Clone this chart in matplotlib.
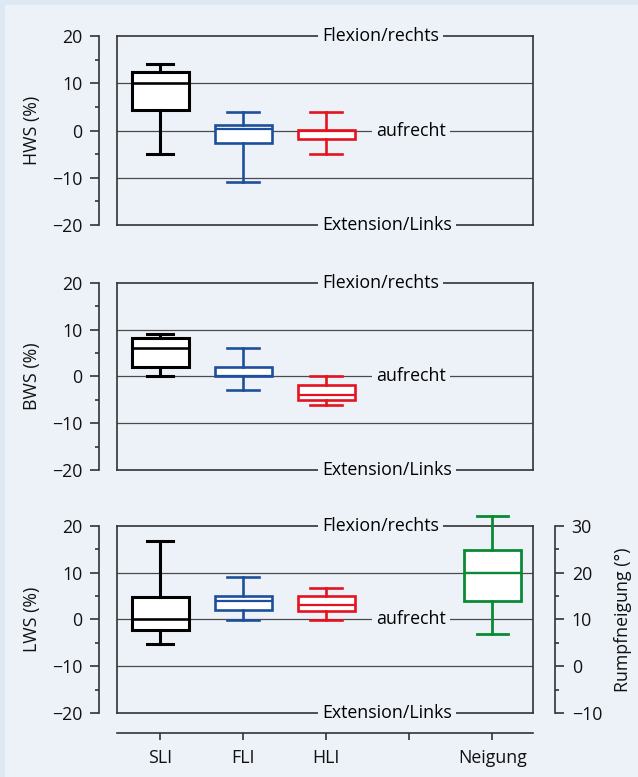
import matplotlib
matplotlib.use('Agg')
import matplotlib.pyplot as plt
from matplotlib.ticker import FixedLocator
import matplotlib.patches as mpatches

plt.rcParams['font.family'] = ['Open Sans', 'DejaVu Sans']
FS = 12.8
plt.rcParams['font.size'] = FS

# ---------------- data ----------------
groups = ['SLI', 'FLI', 'HLI']
xtick_labels = ['SLI', 'FLI', 'HLI', '', 'Neigung']
panel_labels = ['HWS (%)', 'BWS (%)', 'LWS (%)']
right_label = 'Rumpfneigung (°)'
top_text = 'Flexion/rechts'
mid_text = 'aufrecht'
bottom_text = 'Extension/Links'

# five-number summaries: low whisker, Q1, median, Q3, high whisker (SLI, FLI, HLI)
HWS_LOW = [-5, -11, -5]
HWS_Q1 = [4.3, -2.7, -1.8]
HWS_MED = [10, 0.3, 0.0]
HWS_Q3 = [12.3, 1.2, 0.2]
HWS_HIGH = [14, 4, 4]

BWS_LOW = [0, -3, -6.1]
BWS_Q1 = [1.9, 0, -5.0]
BWS_MED = [6, 0, -3.9]
BWS_Q3 = [8.2, 2.0, -1.8]
BWS_HIGH = [9, 6.1, 0]

LWS_LOW = [-5.2, -0.2, -0.2]
LWS_Q1 = [-2.2, 1.9, 1.8]
LWS_MED = [0, 4.0, 3.0]
LWS_Q3 = [4.8, 5.0, 4.9]
LWS_HIGH = [16.7, 9.0, 6.8]

# trunk inclination (°), right axis
NEIG_LOW = 6.8
NEIG_Q1 = 13.9
NEIG_MED = 20
NEIG_Q3 = 24.8
NEIG_HIGH = 32

panels = [
    (HWS_LOW, HWS_Q1, HWS_MED, HWS_Q3, HWS_HIGH),
    (BWS_LOW, BWS_Q1, BWS_MED, BWS_Q3, BWS_HIGH),
    (LWS_LOW, LWS_Q1, LWS_MED, LWS_Q3, LWS_HIGH),
]

colors = ['#000000', '#1d4f9c', '#e3141f']
green = '#0a8a34'
group_lw = [2.2, 1.9, 1.9]
cap_w = [0.32, 0.38, 0.38]

BG = '#edf2f9'
FRAME = '#333333'
GRID = '#4a4a4a'
DPI = 100
px = 72.0 / DPI  # points per pixel

fig = plt.figure(figsize=(6.38, 7.77), dpi=DPI)
fig.patch.set_facecolor('#dde8f2')
fig.add_artist(mpatches.Rectangle((5 / 638, 0), 1, 1 - 5 / 777,
                                  transform=fig.transFigure, facecolor=BG,
                                  edgecolor='none', zorder=-10))

W, H = 638.0, 777.0
left_px, right_px = 117, 533
panel_px = [(36, 225), (282.7, 470), (525.7, 713)]


def int_fmt(v, p):
    return f"{int(round(v))}".replace('-', '\u2212')


def draw_box(ax, pos, low, q1, med, q3, high, color, lw, capw):
    stats = [dict(whislo=low, q1=q1, med=med, q3=q3, whishi=high, fliers=[])]
    art = ax.bxp(stats, positions=[pos], widths=0.69, capwidths=[capw],
                 patch_artist=True, showfliers=False, manage_ticks=False,
                 boxprops=dict(facecolor='white', edgecolor=color, linewidth=lw),
                 medianprops=dict(color=color, linewidth=lw * 0.85),
                 whiskerprops=dict(color=color, linewidth=lw),
                 capprops=dict(color=color, linewidth=lw))
    for k, lst in art.items():
        for a in lst:
            a.set_clip_on(False)
            a.set_zorder(4)


for i, (data, (ytop, ybot)) in enumerate(zip(panels, panel_px)):
    ax = fig.add_axes([left_px / W, 1 - ybot / H, (right_px - left_px) / W, (ybot - ytop) / H])
    ax.set_facecolor('none')
    ax.set_xlim(0.48, 5.49)
    ax.set_ylim(-20, 20)

    # grid lines
    for yv in (10, -10, 0):
        ax.axhline(yv, color=GRID, lw=0.9, zorder=1)

    # frame drawn manually
    for xs, ys in (([0, 1], [1, 1]), ([0, 1], [0, 0]), ([0, 0], [0, 1]), ([1, 1], [0, 1])):
        ax.plot(xs, ys, transform=ax.transAxes, color=FRAME, lw=1.2, zorder=3,
                clip_on=False, solid_capstyle='projecting')

    tb = dict(facecolor=BG, edgecolor='none', pad=3.0)
    ax.text(3.65, 20, top_text, ha='center', va='center', bbox=tb, zorder=6, clip_on=False)
    ax.text(4.02, 0, mid_text, ha='center', va='center', bbox=tb, zorder=6, clip_on=False)
    ax.text(3.73, -20, bottom_text, ha='center', va='center', bbox=tb, zorder=6, clip_on=False)

    lows, q1s, meds, q3s, highs = data
    for j in range(3):
        draw_box(ax, j + 1, lows[j], q1s[j], meds[j], q3s[j], highs[j],
                 colors[j], group_lw[j], cap_w[j])

    # y axis (detached)
    for s in ('top', 'right'):
        ax.spines[s].set_visible(False)
    ax.spines['left'].set_position(('outward', 18 * px))
    ax.spines['left'].set_bounds(-20, 20)
    ax.spines['left'].set_linewidth(1.2)
    ax.spines['left'].set_color(FRAME)
    ax.yaxis.set_major_locator(FixedLocator([-20, -10, 0, 10, 20]))
    ax.yaxis.set_minor_locator(FixedLocator([-15, -5, 5, 15]))
    ax.yaxis.set_major_formatter(plt.FuncFormatter(int_fmt))
    ax.tick_params(axis='y', which='major', length=9 * px, width=1.2, pad=5.5, colors=FRAME,
                   labelcolor='#111111', labelsize=FS)
    ax.tick_params(axis='y', which='minor', length=4 * px, width=1.2, colors=FRAME)

    fig.text(32 / W, 1 - ((ytop + ybot) / 2) / H, panel_labels[i], rotation=90,
             ha='center', va='center', fontsize=FS, color='#111111')

    if i < 2:
        ax.spines['bottom'].set_visible(False)
        ax.set_xticks([])
    else:
        ax.spines['bottom'].set_position(('outward', 19.7 * px))
        ax.spines['bottom'].set_linewidth(1.2)
        ax.spines['bottom'].set_color(FRAME)
        ax.set_xticks([1, 2, 3, 4, 5])
        ax.set_xticklabels(xtick_labels)
        ax.tick_params(axis='x', length=7 * px, width=1.2, pad=7, colors=FRAME,
                       labelcolor='#111111', labelsize=FS)

        # right axis
        ax2 = ax.twinx()
        ax2.set_ylim(-10, 30)
        ax2.set_facecolor('none')
        for s in ('top', 'left', 'bottom'):
            ax2.spines[s].set_visible(False)
        ax2.spines['right'].set_position(('outward', 22 * px))
        ax2.spines['right'].set_bounds(-10, 30)
        ax2.spines['right'].set_linewidth(1.2)
        ax2.spines['right'].set_color(FRAME)
        ax2.yaxis.set_major_locator(FixedLocator([-10, 0, 10, 20, 30]))
        ax2.yaxis.set_minor_locator(FixedLocator([-5, 5, 15, 25]))
        ax2.yaxis.set_major_formatter(plt.FuncFormatter(int_fmt))
        ax2.tick_params(axis='y', which='major', length=9 * px, width=1.2, pad=5.5, colors=FRAME,
                        labelcolor='#111111', labelsize=FS)
        ax2.tick_params(axis='y', which='minor', length=4 * px, width=1.2, colors=FRAME)
        draw_box(ax2, 5, NEIG_LOW, NEIG_Q1, NEIG_MED, NEIG_Q3, NEIG_HIGH, green, 2.0, 0.38)
        fig.text(623 / W, 1 - ((ytop + ybot) / 2) / H, right_label, rotation=90,
                 ha='center', va='center', fontsize=FS, color='#111111')

fig.savefig('out.png', dpi=DPI, facecolor=fig.get_facecolor())
